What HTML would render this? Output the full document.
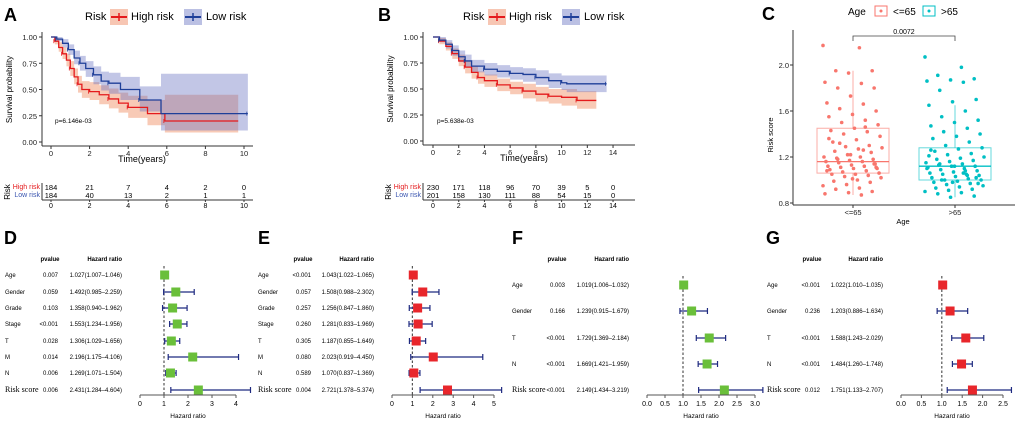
<!DOCTYPE html>
<html><head><meta charset="utf-8"><style>
html,body{margin:0;padding:0;background:#fff;}
svg{display:block;font-family:"Liberation Sans",Arial,sans-serif;}
</style></head><body>
<svg id="s" width="1020" height="424" viewBox="0 0 1020 424" xmlns="http://www.w3.org/2000/svg"></svg>
<script>
// ---------- Panel A data ----------
const aHighT=[0,0.2,0.4,0.6,0.8,1.0,1.2,1.4,1.6,2.0,2.5,3.0,3.5,4.0,5.0,5.9,9.7];
const aHighS=[1,0.96,0.9,0.84,0.78,0.7,0.62,0.55,0.5,0.48,0.45,0.41,0.37,0.33,0.27,0.2,0.2];
const aHighL=[1,0.93,0.86,0.79,0.72,0.63,0.55,0.47,0.42,0.4,0.36,0.32,0.28,0.23,0.16,0.09,0.09];
const aHighU=[1,0.99,0.95,0.9,0.84,0.77,0.7,0.63,0.58,0.57,0.54,0.51,0.47,0.44,0.4,0.45,0.45];
const aLowT=[0,0.3,0.6,0.9,1.2,1.5,1.8,2.2,2.6,3.0,3.6,4.6,5.7,10.2];
const aLowS=[1,0.98,0.94,0.88,0.8,0.75,0.7,0.64,0.58,0.56,0.5,0.4,0.27,0.27];
const aLowL=[1,0.96,0.9,0.83,0.74,0.68,0.62,0.55,0.49,0.46,0.4,0.29,0.11,0.11];
const aLowU=[1,1,0.98,0.93,0.87,0.82,0.77,0.72,0.67,0.66,0.62,0.53,0.65,0.65];
const aHighN=[184,21,7,4,2,0];
const aLowN=[184,40,13,2,1,1];
const aTicks=[0,2,4,6,8,10];
// ---------- Panel B data ----------
const bHighT=[0,0.5,1,1.5,2,2.5,3,3.5,4,5,6,7,8,9,10,11.2,12.7];
const bHighS=[1,0.96,0.91,0.84,0.77,0.71,0.66,0.61,0.58,0.54,0.51,0.48,0.45,0.43,0.42,0.39,0.39];
const bHighL=[1,0.93,0.87,0.79,0.72,0.65,0.6,0.55,0.52,0.48,0.45,0.41,0.38,0.36,0.34,0.31,0.31];
const bHighU=[1,0.99,0.95,0.89,0.83,0.77,0.72,0.67,0.64,0.6,0.57,0.55,0.52,0.5,0.5,0.48,0.48];
const bLowT=[0,0.5,1,1.5,2,2.5,3,4,5,6,7,8,9,10,10.4,13.5];
const bLowS=[1,0.97,0.93,0.87,0.81,0.77,0.72,0.69,0.67,0.65,0.64,0.61,0.58,0.56,0.55,0.55];
const bLowL=[1,0.95,0.89,0.82,0.76,0.71,0.66,0.63,0.61,0.59,0.57,0.54,0.51,0.49,0.47,0.47];
const bLowU=[1,1,0.97,0.92,0.87,0.83,0.78,0.75,0.73,0.71,0.7,0.68,0.65,0.63,0.63,0.63];
const bHighN=[230,171,118,96,70,39,5,0];
const bLowN=[201,158,130,111,88,54,15,0];
const bTicks=[0,2,4,6,8,10,12,14];
// ---------- Panel C data ----------
const cYoung=[2.17,2.15,1.95,1.95,1.93,1.85,1.84,1.8,1.8,1.73,1.67,1.66,1.62,1.6,1.57,1.55,1.52,1.5,1.48,1.45,1.43,1.42,1.4,1.38,1.35,1.33,1.3,1.29,1.28,1.27,1.25,1.24,1.22,1.2,1.2,1.19,1.18,1.17,1.16,1.16,1.15,1.14,1.13,1.12,1.12,1.11,1.1,1.1,1.09,1.08,1.07,1.06,1.05,1.05,1.04,1.03,1.02,1.0,0.99,0.98,0.96,0.95,0.93,0.92,0.9,0.89,0.88,0.87,1.18,1.14,1.22,1.08,1.26,1.32,1.11,1.01,1.36,1.46];
const cOld=[2.07,1.98,1.91,1.88,1.87,1.86,1.85,1.78,1.7,1.68,1.65,1.6,1.55,1.52,1.5,1.47,1.45,1.42,1.4,1.38,1.36,1.33,1.3,1.28,1.27,1.25,1.23,1.22,1.2,1.19,1.18,1.17,1.16,1.15,1.14,1.13,1.12,1.12,1.11,1.1,1.09,1.08,1.07,1.06,1.05,1.05,1.04,1.03,1.02,1.01,1.0,1.0,0.99,0.98,0.97,0.96,0.95,0.94,0.93,0.92,0.91,0.9,0.89,0.88,0.86,0.85,1.1,1.06,1.14,1.02,0.98,1.21,1.08,1.0,0.97,1.12,1.26,1.04];
const cYoungBox=[0.87,1.06,1.16,1.45,1.95];
const cOldBox=[0.85,1.0,1.12,1.28,1.65];
const cTicks=[0.8,1.2,1.6,2.0];
// ---------- Forest data ----------
const dVars=["Age","Gender","Grade","Stage","T","M","N","Risk score"];
const dP=["0.007","0.059","0.103","<0.001","0.028","0.014","0.006","0.006"];
const dHR=[1.027,1.492,1.358,1.553,1.306,2.196,1.269,2.431];
const dLo=[1.007,0.985,0.940,1.234,1.029,1.175,1.071,1.284];
const dHi=[1.046,2.259,1.962,1.956,1.656,4.106,1.504,4.604];
const eVars=["Age","Gender","Grade","Stage","T","M","N","Risk score"];
const eP=["<0.001","0.057","0.257","0.260","0.305","0.080","0.589","0.004"];
const eHR=[1.043,1.508,1.256,1.281,1.187,2.023,1.070,2.721];
const eLo=[1.022,0.988,0.847,0.833,0.855,0.919,0.837,1.378];
const eHi=[1.065,2.302,1.860,1.969,1.649,4.450,1.369,5.374];
const fVars=["Age","Gender","T","N","Risk score"];
const fP=["0.003","0.166","<0.001","<0.001","<0.001"];
const fHR=[1.019,1.239,1.729,1.669,2.149];
const fLo=[1.006,0.915,1.369,1.421,1.434];
const fHi=[1.032,1.679,2.184,1.959,3.219];
const gVars=["Age","Gender","T","N","Risk score"];
const gP=["<0.001","0.236","<0.001","<0.001","0.012"];
const gHR=[1.022,1.203,1.588,1.484,1.751];
const gLo=[1.010,0.886,1.243,1.260,1.133];
const gHi=[1.035,1.634,2.029,1.748,2.707];

const S=document.getElementById('s');
const NS="http://www.w3.org/2000/svg";
function el(tag,attrs,parent,txt){const e=document.createElementNS(NS,tag);for(const k in attrs)e.setAttribute(k,attrs[k]);if(txt!==undefined)e.textContent=txt;(parent||S).appendChild(e);return e;}
function grp(name){const g=el('g',{});return g;}
function txt(g,x,y,s,size,anchor,extra){const a=Object.assign({x:x,y:y,'font-size':size,'text-anchor':anchor||'start',fill:'#000'},extra||{});return el('text',a,g,s);}
function letter(x,y,s){const g=grp('panel-label-'+s.toLowerCase());txt(g,x,y,s,18,'start',{'font-weight':'bold'});}

function stepPath(T,V,xs,ys){let d='M'+xs(T[0])+','+ys(V[0]);for(let i=1;i<T.length;i++){d+='H'+xs(T[i])+'V'+ys(V[i]);}return d;}
function bandPath(T,L,U,xs,ys){let d='M'+xs(T[0])+','+ys(U[0]);for(let i=1;i<T.length;i++)d+='H'+xs(T[i])+'V'+ys(U[i]);for(let i=T.length-1;i>=0;i--){d+='V'+ys(L[i]);if(i>0)d+='H'+xs(T[i]);}return d+'Z';}

function km(o){
  const xs=t=>o.x0+t*o.px, ys=v=>o.y0-v*(o.y0-o.y1);
  const g=grp(o.name);
  const lg=grp(o.name+'-legend');
  txt(lg,o.legX,20,'Risk',11);
  el('rect',{x:o.legX+25,y:9,width:18,height:16,fill:'#f5b8a0',opacity:0.8},lg);
  el('line',{x1:o.legX+26,y1:17,x2:o.legX+42,y2:17,stroke:'#e41a1c','stroke-width':2},lg);
  el('line',{x1:o.legX+34,y1:13,x2:o.legX+34,y2:21,stroke:'#e41a1c','stroke-width':1.5},lg);
  txt(lg,o.legX+46,20,'High risk',11);
  el('rect',{x:o.legX+99,y:9,width:18,height:16,fill:'#aab0dc',opacity:0.8},lg);
  el('line',{x1:o.legX+100,y1:17,x2:o.legX+116,y2:17,stroke:'#1f3f99','stroke-width':2},lg);
  el('line',{x1:o.legX+108,y1:13,x2:o.legX+108,y2:21,stroke:'#1f3f99','stroke-width':1.5},lg);
  txt(lg,o.legX+121,20,'Low risk',11);
  let b=el('path',{d:bandPath(o.hT,o.hL,o.hU,xs,ys),fill:'#f08a5d','fill-opacity':0.45},g);
  
  b=el('path',{d:bandPath(o.lT,o.lL,o.lU,xs,ys),fill:'#6670c0','fill-opacity':0.4},g);
  
  let p=el('path',{d:stepPath(o.hT,o.hS,xs,ys),fill:'none',stroke:'#e41a1c','stroke-width':1.3},g);
  
  p=el('path',{d:stepPath(o.lT,o.lS,xs,ys),fill:'none',stroke:'#1f3f99','stroke-width':1.3},g);
  
  for(let i=1;i<o.hT.length;i+=2){el('line',{x1:xs(o.hT[i])-1,x2:xs(o.hT[i])-1,y1:ys(o.hS[i])-2,y2:ys(o.hS[i])+2,stroke:'#e41a1c','stroke-width':0.8},g);}
  for(let i=1;i<o.lT.length;i+=2){el('line',{x1:xs(o.lT[i])-1,x2:xs(o.lT[i])-1,y1:ys(o.lS[i])-2,y2:ys(o.lS[i])+2,stroke:'#1f3f99','stroke-width':0.8},g);}
  el('line',{x1:o.ax,y1:o.y1-5,x2:o.ax,y2:o.y0+4,stroke:'#333','stroke-width':1},g);
  el('line',{x1:o.ax,y1:o.y0+4,x2:o.axEnd,y2:o.y0+4,stroke:'#333','stroke-width':1},g);
  [0,0.25,0.5,0.75,1].forEach(v=>{el('line',{x1:o.ax-3,x2:o.ax,y1:ys(v),y2:ys(v),stroke:'#333'},g);txt(g,o.ax-5,ys(v)+3,v.toFixed(2),7.5,'end',{fill:'#222'});});
  o.ticks.forEach(t=>{el('line',{x1:xs(t),x2:xs(t),y1:o.y0+4,y2:o.y0+7,stroke:'#333'},g);txt(g,xs(t),o.y0+14,String(t),7.5,'middle',{fill:'#222'});});
  txt(g,(o.x0+o.axEnd)/2-10,o.y0+20,'Time(years)',9,'middle');
  txt(g,0,0,'Survival probability',8,'middle',{transform:'translate('+(o.ax-30)+','+((o.y0+o.y1)/2)+') rotate(-90)'});
  txt(g,o.pX,o.pY,o.pTxt,6.5,'start');
  const tg=grp(o.name+'-risk-table');
  o.ticks.forEach((t,i)=>{txt(tg,xs(t),190,String(o.hN[i]),7.5,'middle');txt(tg,xs(t),198,String(o.lN[i]),7.5,'middle');
    el('line',{x1:xs(t),x2:xs(t),y1:200,y2:202,stroke:'#333'},tg);txt(tg,xs(t),208,String(t),7,'middle');});
  el('line',{x1:o.ax,y1:183,x2:o.ax,y2:200,stroke:'#333'},tg);
  el('line',{x1:o.ax,y1:200,x2:o.axEnd,y2:200,stroke:'#333'},tg);
  txt(tg,o.ax-2,189,'High risk',7,'end',{fill:'#e41a1c'});
  txt(tg,o.ax-2,197,'Low risk',7,'end',{fill:'#3a55b0'});
  txt(tg,0,0,'Risk',8,'middle',{transform:'translate('+(o.ax-32)+',192) rotate(-90)'});
}
letter(4,21,'A');
km({name:'km-plot-a',x0:51,px:19.3,y0:142,y1:37,ax:42,axEnd:253,legX:85,hT:aHighT,hS:aHighS,hL:aHighL,hU:aHighU,lT:aLowT,lS:aLowS,lL:aLowL,lU:aLowU,hN:aHighN,lN:aLowN,ticks:aTicks,pX:55,pY:123,pTxt:'p=6.146e-03'});
letter(378,21,'B');
km({name:'km-plot-b',x0:433,px:12.86,y0:141,y1:37,ax:423,axEnd:635,legX:463,hT:bHighT,hS:bHighS,hL:bHighL,hU:bHighU,lT:bLowT,lS:bLowS,lL:bLowL,lU:bLowU,hN:bHighN,lN:bLowN,ticks:bTicks,pX:437,pY:123,pTxt:'p=5.638e-03'});

// ---------- Panel C ----------
letter(762,20,'C');
(function(){
  const ys=v=>65+(2.0-v)*115;
  const g=grp('boxplot-c');
  const lg=grp('boxplot-legend');
  txt(lg,848,15,'Age',10);
  el('rect',{x:875,y:6,width:12,height:10,fill:'none',stroke:'#F8766D'},lg);
  el('circle',{cx:881,cy:11,r:1.5,fill:'#F8766D'},lg);
  txt(lg,893,15,'<=65',10);
  el('rect',{x:923,y:6,width:12,height:10,fill:'none',stroke:'#00BFC4'},lg);
  el('circle',{cx:929,cy:11,r:1.5,fill:'#00BFC4'},lg);
  txt(lg,941,15,'>65',10);
  function box(cx,st,col,vals,name){
    const bg=grp(name);
    el('line',{x1:cx,x2:cx,y1:ys(st[0]),y2:ys(st[1]),stroke:col,'stroke-opacity':0.6},bg);
    el('line',{x1:cx,x2:cx,y1:ys(st[3]),y2:ys(st[4]),stroke:col,'stroke-opacity':0.6},bg);
    el('rect',{x:cx-36,y:ys(st[3]),width:72,height:ys(st[1])-ys(st[3]),fill:'none',stroke:col,'stroke-opacity':0.6,'stroke-width':1},bg);
    el('line',{x1:cx-36,x2:cx+36,y1:ys(st[2]),y2:ys(st[2]),stroke:col,'stroke-width':1.3},bg);
    vals.forEach((v,i)=>{const j=((i*37)%61)/61*60-30;const c=el('circle',{cx:cx+j,cy:ys(v),r:1.8,fill:col},bg);});
  }
  box(853,cYoungBox,'#F8766D',cYoung,'box-le65');
  box(955,cOldBox,'#00BFC4',cOld,'box-gt65');
  el('line',{x1:793,y1:30,x2:793,y2:205,stroke:'#333'},g);
  el('line',{x1:793,y1:205,x2:1015,y2:205,stroke:'#333'},g);
  cTicks.forEach(v=>{el('line',{x1:790,x2:793,y1:ys(v),y2:ys(v),stroke:'#333'},g);txt(g,789,ys(v)+3,v.toFixed(1),7.5,'end',{fill:'#222'});});
  [[853,'<=65'],[955,'>65']].forEach(a=>{el('line',{x1:a[0],x2:a[0],y1:205,y2:208,stroke:'#333'},g);txt(g,a[0],215,a[1],7.5,'middle',{fill:'#222'});});
  txt(g,903,224,'Age',7.5,'middle');
  txt(g,0,0,'Risk score',7.5,'middle',{transform:'translate(773,135) rotate(-90)'});
  el('path',{d:'M853,41V36H955V41',fill:'none',stroke:'#444','stroke-width':0.8},g);
  txt(g,904,34,'0.0072',7,'middle');
})();

// ---------- Forest plots ----------
function forest(o){
  const g=grp(o.name);
  const xs=v=>o.x0+v*o.px;
  txt(g,o.pCol-8,o.hY,'pvalue',6,'middle',{'font-weight':'bold'});
  txt(g,o.hrCol,o.hY,'Hazard ratio',6,'end',{'font-weight':'bold'});
  const yTop=o.rows[0]-9,yBot=o.rows[o.rows.length-1]+6;
  el('line',{x1:xs(1),x2:xs(1),y1:yTop,y2:yBot,stroke:'#555','stroke-width':1.2,'stroke-dasharray':'2.5,2'},g);
  o.vars.forEach((v,i)=>{
    const y=o.rows[i];
    const last=v==='Risk score';
    txt(g,o.lx,y+2,v,last?8:6,'start',last?{'font-family':'Liberation Serif,serif'}:{});
    txt(g,o.pCol,y+2,o.p[i],6,'end');
    txt(g,o.hrCol,y+2,o.hr[i].toFixed(3)+'('+o.lo[i].toFixed(3)+'\u2013'+o.hi[i].toFixed(3)+')',6,'end');
    const rg=grp(o.name+'-row-'+v.toLowerCase().replace(' ','-'));
    el('line',{x1:xs(o.lo[i]),x2:xs(o.hi[i]),y1:y,y2:y,stroke:'#1f2a80','stroke-width':1.2},rg);
    el('line',{x1:xs(o.lo[i]),x2:xs(o.lo[i]),y1:y-3,y2:y+3,stroke:'#1f2a80','stroke-width':1.2},rg);
    el('line',{x1:xs(o.hi[i]),x2:xs(o.hi[i]),y1:y-3,y2:y+3,stroke:'#1f2a80','stroke-width':1.2},rg);
    el('rect',{x:xs(o.hr[i])-4.5,y:y-4.5,width:9,height:9,fill:o.col},rg);
  });
  el('line',{x1:xs(o.ticks[0]),x2:xs(o.ticks[o.ticks.length-1]),y1:395,y2:395,stroke:'#555'},g);
  o.ticks.forEach(t=>{el('line',{x1:xs(t),x2:xs(t),y1:395,y2:398,stroke:'#555'},g);txt(g,xs(t),406,o.dec?t.toFixed(1):String(t),7,'middle');});
  txt(g,(xs(o.ticks[0])+xs(o.ticks[o.ticks.length-1]))/2,418,'Hazard ratio',6.5,'middle');
}
letter(4,244,'D');
forest({name:'forest-d',x0:140,px:24,lx:5,pCol:58,hrCol:122,hY:261,rows:[275,292,308,324,341,357,373,390],vars:dVars,p:dP,hr:dHR,lo:dLo,hi:dHi,col:'#6abf3a',ticks:[0,1,2,3,4],dec:false});
letter(258,244,'E');
forest({name:'forest-e',x0:392,px:20.4,lx:258,pCol:311,hrCol:374,hY:261,rows:[275,292,308,324,341,357,373,390],vars:eVars,p:eP,hr:eHR,lo:eLo,hi:eHi,col:'#e8262b',ticks:[0,1,2,3,4,5],dec:false});
letter(512,244,'F');
forest({name:'forest-f',x0:647,px:36,lx:512,pCol:565,hrCol:629,hY:261,rows:[285,311,338,364,390],vars:fVars,p:fP,hr:fHR,lo:fLo,hi:fHi,col:'#6abf3a',ticks:[0,0.5,1,1.5,2,2.5,3],dec:true});
letter(766,244,'G');
forest({name:'forest-g',x0:901,px:40.8,lx:767,pCol:820,hrCol:883,hY:261,rows:[285,311,338,364,390],vars:gVars,p:gP,hr:gHR,lo:gLo,hi:gHi,col:'#e8262b',ticks:[0,0.5,1,1.5,2,2.5],dec:true});
</script>
</body></html>
